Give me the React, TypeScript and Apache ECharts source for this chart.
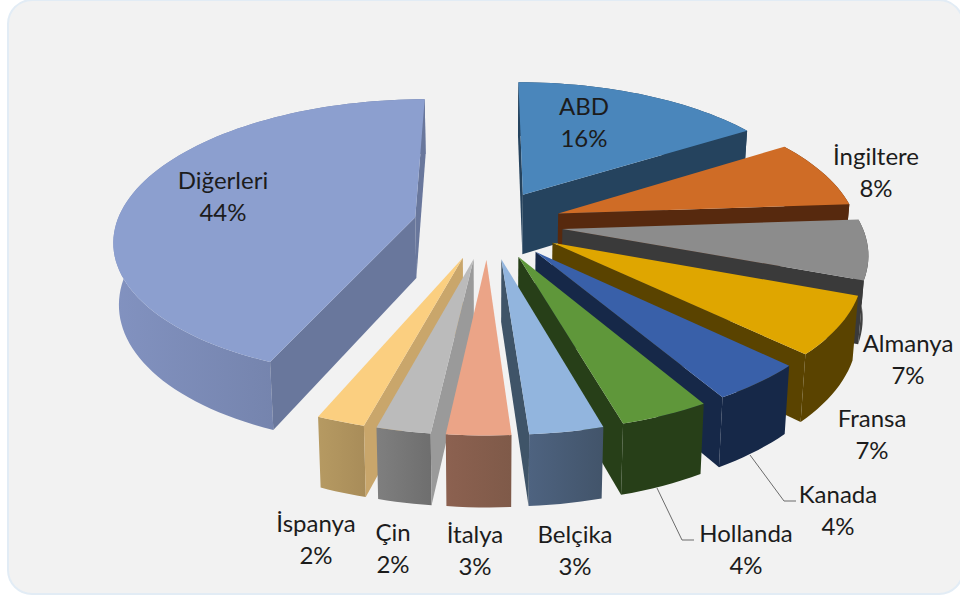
import React, { useEffect, useRef } from "react";
import * as echarts from "echarts";

const categories = ["ABD", "İngiltere", "Almanya", "Fransa", "Kanada", "Hollanda", "Belçika", "İtalya", "Çin", "İspanya", "Diğerleri"];
const shares = [16, 7.9, 6.8, 6.55, 4.32, 4.03, 3.3, 2.85, 2.42, 2.18, 43.65];

const topColors = ["#4a86bb", "#cf6c26", "#8c8c8c", "#dfa600", "#3960a9", "#5f973a", "#92b5de", "#eba487", "#bbbbbb", "#fbcf80", "#8c9fcf"];
const sideColors = ["#25435e", "#57290e", "#3a3a3a", "#5a4300", "#162848", "#273f18", "#3f5468", "#7d5545", "#9a9a9a", "#c9a66b", "#69779c"];
const outerFrom = ["#25435e", "#57290e", "#4a4a4a", "#5a4300", "#162848", "#273f18", "#4e6380", "#8c6150", "#7f7f7f", "#b69a62", "#8292c0"];
const outerTo = ["#25435e", "#57290e", "#3a3a3a", "#5a4300", "#162848", "#273f18", "#42546a", "#7f5a49", "#6e6e6e", "#a88c59", "#69779c"];

const labelX = [584, 876, 908, 872, 838, 746, 575, 475, 393, 316, 223];
const labelY = [121, 171, 358, 433, 509, 548, 549, 549, 547, 538, 195];

const CX = 488, CY = 224, RX = 299, RY = 137.5, PERSP = 0.15, SHRINK = 0.985, HEIGHT = 61, EXPLODE = 0.25;
const FONT = 'Lato, "Open Sans", sans-serif';

const project = (X: number, Y: number, low: boolean): number[] => {
  const s = 1 / (1 - PERSP * Y);
  const q = low ? SHRINK : 1;
  return [CX + X * RX * s * q, CY + Y * RY * s * q + (low ? HEIGHT * s : 0)];
};

const total = shares.reduce((a, b) => a + b, 0);

const renderItem = (params: any, api: any) => {
  const i = params.dataIndex;
  const value = api.value(0);
  const before = shares.slice(0, i).reduce((a, b) => a + b, 0);
  const a0 = (before / total) * Math.PI * 2;
  const a1 = ((before + value) / total) * Math.PI * 2;
  const mid = (a0 + a1) / 2;
  const ox = EXPLODE * Math.sin(mid);
  const oy = -EXPLODE * Math.cos(mid);
  const apex = (low: boolean) => project(ox, oy, low);
  const rim = (a: number, low: boolean) => project(ox + Math.sin(a), oy - Math.cos(a), low);
  const steps = Math.max(6, Math.ceil((a1 - a0) * 30));
  const arcTop: number[][] = [];
  const arcLow: number[][] = [];
  for (let k = 0; k <= steps; k++) {
    const a = a0 + ((a1 - a0) * k) / steps;
    arcTop.push(rim(a, false));
    arcLow.push(rim(a, true));
  }
  const order = Math.round((oy / EXPLODE + 1) * 100) * 10;
  const A = apex(false);
  const M = rim(mid, false);
  const visible = (O: number[]) => {
    const ex = O[0] - A[0], ey = O[1] - A[1];
    return Math.sign(ex * (M[1] - A[1]) - ey * (M[0] - A[0])) !== Math.sign(ex);
  };
  const children: any[] = [];
  children.push({
    type: "polygon",
    z2: order,
    shape: { points: [...arcTop, ...arcLow.slice().reverse()] },
    style: {
      fill: new echarts.graphic.LinearGradient(0, 0, 1, 0, [
        { offset: 0, color: outerFrom[i] },
        { offset: 1, color: outerTo[i] },
      ]),
    },
  });
  [a0, a1].forEach((a, n) => {
    const O = rim(a, false);
    if (visible(O)) {
      children.push({
        type: "polygon",
        z2: order + 1 + n,
        shape: { points: [A, O, rim(a, true), apex(true)] },
        style: { fill: sideColors[i] },
      });
    }
  });
  children.push({
    type: "polygon",
    z2: order + 5,
    shape: { points: [A, ...arcTop] },
    style: { fill: topColors[i] },
  });
  children.push({
    type: "text",
    z2: 5000,
    style: {
      text: `${categories[i]}\n${Math.round(value)}%`,
      x: labelX[i],
      y: labelY[i],
      align: "center",
      verticalAlign: "middle",
      fill: "#1c1c1c",
      font: `24px ${FONT}`,
      lineHeight: 32,
    },
  });
  return { type: "group", children };
};

export default function App() {
  const ref = useRef<HTMLDivElement>(null);
  useEffect(() => {
    document.body.style.margin = "0";
    document.body.style.background = "#ffffff";
    const chart = echarts.init(ref.current!, null, { renderer: "svg" });
    chart.setOption({
      animation: false,
      backgroundColor: "#ffffff",
      graphic: {
        elements: [
          {
            type: "rect",
            z: -10,
            shape: { x: 8, y: 0, width: 955, height: 594, r: 24 },
            style: { fill: "#f2f2f2", stroke: "#e2ecf5", lineWidth: 2 },
          },
          {
            type: "polyline",
            z: 10,
            shape: { points: [[750, 455], [784, 501], [796, 501]] },
            style: { fill: "none", stroke: "#6b6b6b", lineWidth: 1 },
          },
          {
            type: "polyline",
            z: 10,
            shape: { points: [[657, 488], [682, 540], [694, 540]] },
            style: { fill: "none", stroke: "#6b6b6b", lineWidth: 1 },
          },
        ],
      },
      series: [
        {
          type: "custom",
          coordinateSystem: "none",
          renderItem,
          data: shares.map((v, i) => ({ name: categories[i], value: [v] })),
        },
      ],
    });
    return () => chart.dispose();
  }, []);
  return <div ref={ref} style={{ width: 960, height: 597 }} />;
}
